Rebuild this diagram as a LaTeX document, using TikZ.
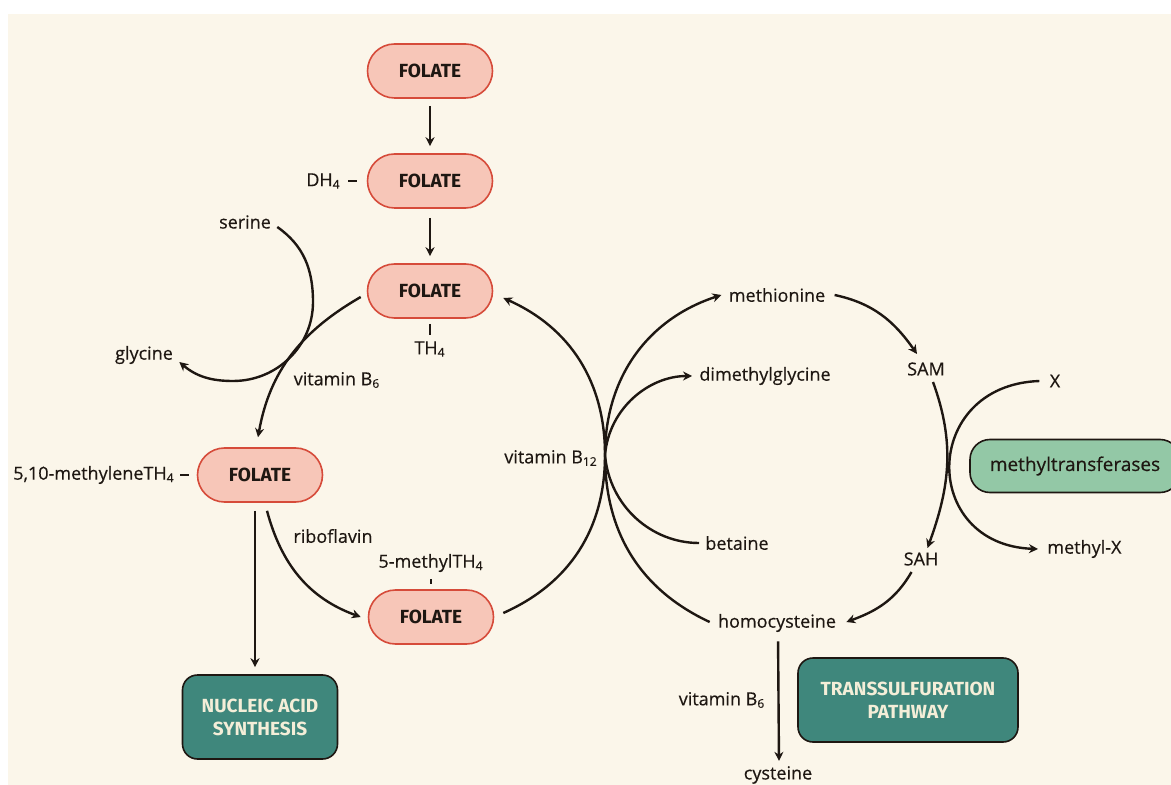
\documentclass[tikz,border=0pt]{standalone}
\usepackage{fontspec}
\setmainfont{Open Sans}
\newfontfamily\lblfont{Open Sans}[FakeBold=0.4]
\newfontfamily\headfont{Fira Sans}
\usetikzlibrary{arrows.meta}
\definecolor{cream-bg}{HTML}{FBF6EA}
\definecolor{folate-fill}{HTML}{F7C6B8}
\definecolor{folate-line}{HTML}{D64B3A}
\definecolor{teal-fill}{HTML}{3F877C}
\definecolor{mint-fill}{HTML}{93C8A6}
\definecolor{ink}{HTML}{1E1712}
\definecolor{pale-text}{HTML}{F4EED8}

\begin{document}
\begin{tikzpicture}[x=0.5pt, y=0.5pt,
    lbl/.style={font=\lblfont\fontsize{9}{11}\selectfont, text=ink, inner sep=1pt},
    folate/.style={draw=folate-line, line width=0.8pt, fill=folate-fill,
      rounded corners=13.5pt, minimum width=62.5pt, minimum height=27pt,
      font=\headfont\bfseries\fontsize{9.5}{10}\selectfont, text=ink},
    tealbox/.style={draw=ink, line width=0.8pt, fill=teal-fill,
      rounded corners=7.5pt, minimum height=42pt, align=center,
      font=\headfont\bfseries\fontsize{9.5}{11.5}\selectfont, text=pale-text},
    arr/.style={-{Stealth[length=4.5pt,width=4.5pt]}, line width=1.2pt, draw=ink},
    link/.style={line width=1.2pt, draw=ink}]
    \useasboundingbox (0,0) rectangle (1171,-785);
    \fill[white] (0,0) rectangle (1171,-785);
    \fill[cream-bg] (8,-14) rectangle (1171,-785);

    \node[folate] (folate1) at (430,-71) {FOLATE};
    \node[folate] (folate2) at (430,-181) {FOLATE};
    \node[folate] (folate3) at (430,-291) {FOLATE};
    \node[folate] (folate4) at (260,-475) {FOLATE};
    \node[folate] (folate5) at (431,-617) {FOLATE};
    \node[tealbox, minimum width=77.5pt] (nucleic) at (260,-717) {NUCLEIC ACID\\SYNTHESIS};
    \node[tealbox, minimum width=110pt] (transsulf) at (908,-700) {TRANSSULFURATION\\PATHWAY};
    \node[draw=ink, line width=0.8pt, fill=mint-fill, rounded corners=10pt,
          minimum width=105pt, minimum height=26.5pt, text=ink,
          font=\lblfont\fontsize{9.5}{11}\selectfont] (mtase) at (1075,-466) {methyltransferases};

    \node[lbl, anchor=east] (dh4) at (343,-181) {DH\textsubscript{4}};
    \node[lbl] (th4) at (430,-349) {TH\textsubscript{4}};
    \node[lbl] (serine) at (245,-222) {serine};
    \node[lbl] (glycine) at (144,-355) {glycine};
    \node[lbl] (vitb6a) at (337,-380) {vitamin B\textsubscript{6}};
    \node[lbl, anchor=east] (methylene) at (177,-475) {5,10-methyleneTH\textsubscript{4}};
    \node[lbl] (ribo) at (333,-536) {riboflavin};
    \node[lbl] (methylth4) at (431,-563) {5-methylTH\textsubscript{4}};
    \node[lbl] (vitb12) at (551,-458) {vitamin B\textsubscript{12}};
    \coordinate (b12) at (605,-455);
    \coordinate (serright) at (313,-302);
    \coordinate (serlow) at (233,-381);
    \node[lbl] (methionine) at (777,-295) {methionine};
    \node[lbl, anchor=west] (dmg) at (697,-376) {dimethylglycine};
    \node[lbl, anchor=west] (betaine) at (703,-543) {betaine};
    \node[lbl] (homocys) at (777,-623) {homocysteine};
    \node[lbl] (sam) at (926,-369) {SAM};
    \node[lbl] (sah) at (921,-559) {SAH};
    \node[lbl] (xin) at (1055,-381) {X};
    \node[lbl, anchor=west] (xout) at (1045,-549) {methyl-X};
    \node[lbl] (vitb6b) at (722,-700) {vitamin B\textsubscript{6}};
    \node[lbl] (cysteine) at (778,-775) {cysteine};

    \draw[arr, shorten <=3.5pt, shorten >=3.5pt] (folate1) -- (folate2);
    \draw[arr, shorten <=4.5pt, shorten >=3.5pt] (folate2) -- (folate3);
    \draw[link, shorten <=2.5pt, shorten >=5pt] (dh4.east) -- (folate2.west);
    \draw[link, shorten <=2.5pt, shorten >=2.2pt] (folate3.south) -- (th4.north);
    \draw[link, shorten <=1.5pt, shorten >=4pt] (methylene.east) -- (folate4.west);
    \draw[link, shorten <=2.5pt, shorten >=2.5pt] (methylth4.south) -- (folate5.north);

    \draw[arr] ([shift={(4,-5)}]serine.east) to[out=-35,in=90] (serright)
      to[out=-90,in=0] (serlow) to[out=180,in=-40] ([shift={(4,-7)}]glycine.east);
    \draw[arr] ([shift={(-6,-6)}]folate3.west) to[out=-150,in=80] ([shift={(-2,10)}]folate4.north);
    \draw[arr] ([shift={(7,-8)}]folate4.south) to[out=-75,in=160] ([shift={(-7,0)}]folate5.west);
    \draw[arr, shorten <=4pt, shorten >=3.5pt] ([xshift=-2.5pt]folate4.south) -- ([xshift=-2.5pt]nucleic.north);

    \draw[arr] ([shift={(9,4)}]folate5.east) to[out=24,in=-90] (b12)
      to[out=90,in=-24] ([shift={(10,-7)}]folate3.east);
    \draw[arr] ([shift={(-6,1)}]homocys.west) to[out=155,in=-90] (b12)
      to[out=90,in=-162] ([shift={(-5,0)}]methionine.west);
    \draw[arr, shorten >=2.5pt] (b12) to[out=85,in=180] (dmg.west);
    \draw[link, shorten <=2pt] (betaine.west) to[out=180,in=-85] (b12);

    \draw[arr] ([xshift=3.5pt]methionine.east) to[out=-12,in=125] ([shift={(-9,6)}]sam.north);
    \draw[arr] ([shift={(7,-4)}]sam.south) to[out=-70,in=70] ([shift={(6.5,2)}]sah.north);
    \draw[arr] ([shift={(-9.5,-4)}]sah.south) to[out=-120,in=20] ([shift={(8,1)}]homocys.east);
    \draw[arr] ([xshift=-4pt]xin.west) to[out=182,in=178,looseness=1.8] ([xshift=-3.5pt]xout.west);
    \draw[arr, shorten <=3.5pt, shorten >=1.5pt] ([xshift=0.5pt]homocys.south) -- ([xshift=0.5pt]cysteine.north);
\end{tikzpicture}
\end{document}
